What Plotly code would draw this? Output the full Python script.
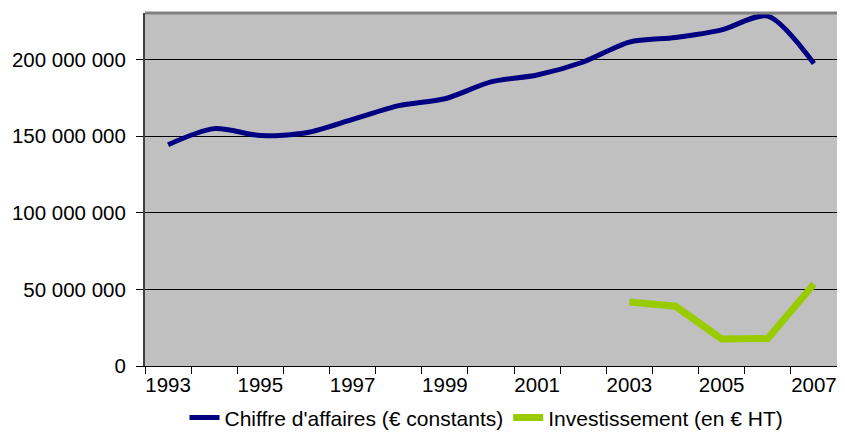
import plotly.graph_objects as go

years = list(range(1993, 2008))
chiffre_affaires = [144.5e6, 155.0e6, 150.5e6, 152.3e6, 161.0e6, 170.0e6, 174.5e6,
                    185.5e6, 190.0e6, 198.5e6, 211.5e6, 214.5e6, 219.5e6, 228.5e6, 197.5e6]
investissement = [None] * 10 + [41.8e6, 39.0e6, 17.7e6, 17.9e6, 53.6e6]

y_tickvals = [0, 50e6, 100e6, 150e6, 200e6]
y_ticktext = ["0", "50 000 000", "100 000 000", "150 000 000", "200 000 000"]
x_tickvals = list(range(1993, 2008, 2))
x_ticktext = [str(y) for y in x_tickvals]

font = "Liberation Sans, Arial, sans-serif"

fig = go.Figure()
fig.add_trace(go.Scatter(
    x=years, y=chiffre_affaires, mode="lines",
    name="Chiffre d'affaires (€ constants)",
    line=dict(color="#000080", width=5, shape="spline", smoothing=0.8),
))
fig.add_trace(go.Scatter(
    x=years, y=investissement, mode="lines",
    name="Investissement (en € HT)",
    line=dict(color="#99CC00", width=7),
))

fig.update_layout(
    width=829, height=427,
    margin=dict(l=137, r=0, t=5, b=69, autoexpand=False),
    paper_bgcolor="white", plot_bgcolor="#C0C0C0",
    font=dict(family=font, size=20, color="black"),
    showlegend=True,
    legend=dict(orientation="h", x=0.4935, xanchor="center", y=-0.147, yanchor="middle",
                font=dict(size=21), bgcolor="rgba(0,0,0,0)", itemwidth=30,
                tracegroupgap=0),
    xaxis=dict(range=[1992.5, 2007.5], tickvals=x_tickvals, ticktext=x_ticktext,
               ticks="", showgrid=False, zeroline=False,
               showline=True, linecolor="black", linewidth=1,
               minor=dict(tick0=1992.5, dtick=1, ticks="outside", ticklen=7,
                          tickcolor="black", showgrid=False),
               tickfont=dict(size=20.5)),
    yaxis=dict(range=[0, 230.5e6], tickvals=y_tickvals, ticktext=y_ticktext,
               ticks="outside", ticklen=7, tickcolor="black",
               showgrid=True, gridcolor="black", gridwidth=1, zeroline=False,
               showline=True, linecolor="#404040", linewidth=2,
               tickfont=dict(size=20.5), ticklabelstandoff=6),
)
fig.add_shape(type="line", xref="paper", yref="paper", x0=0, x1=1, y0=1, y1=1,
              line=dict(color="#808080", width=3))

fig.write_html("out.html")
